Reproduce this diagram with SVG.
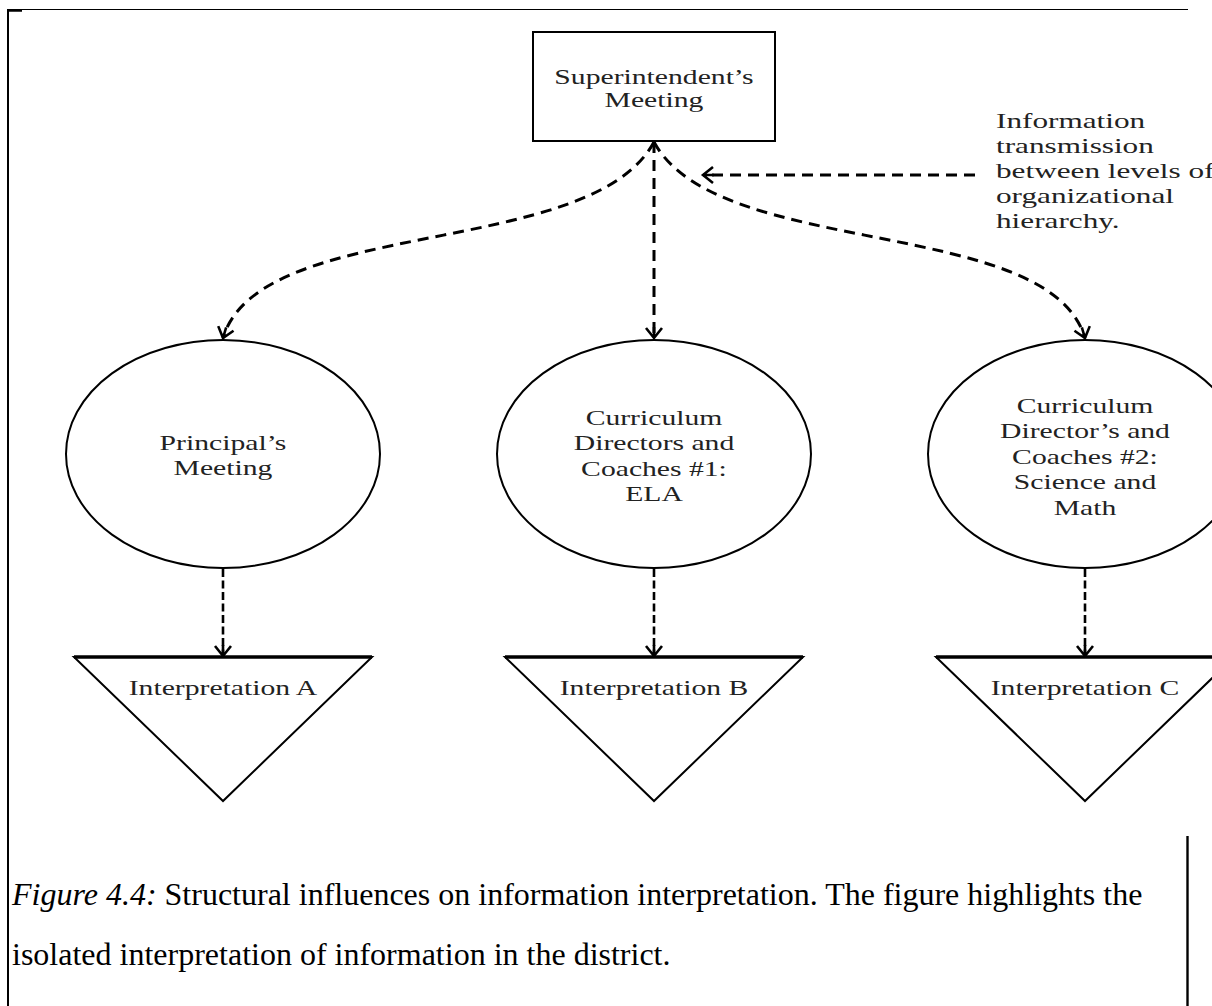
<svg xmlns="http://www.w3.org/2000/svg" width="1212" height="1006" viewBox="0 0 1212 1006">
<defs>
<style>
.shape{fill:#fff;stroke:#000;stroke-width:2;}
.t{font-family:"Liberation Serif","Times New Roman",serif;font-size:21.5px;fill:#222;text-anchor:middle;}
.lbl{font-family:"Liberation Serif","Times New Roman",serif;font-size:22px;fill:#222;}
.cap{font-family:"Liberation Serif","Times New Roman",serif;font-size:32px;fill:#000;}
.dash{fill:none;stroke:#000;stroke-width:3;stroke-dasharray:11 7;}
.dash2{fill:none;stroke:#000;stroke-width:2.6;stroke-dasharray:8 3.5;}
.frame line{stroke:#000;}
</style>
<marker id="ah" markerUnits="userSpaceOnUse" viewBox="-12 -10 14 20" refX="0" refY="0" markerWidth="14" markerHeight="20" orient="auto" style="overflow:visible">
<path d="M-10,-8 L0,0 L-10,8 M-11,0 L0,0" fill="none" stroke="#000" stroke-width="2.6"/>
</marker>
</defs>
<rect width="1212" height="1006" fill="#fff"/>
<g id="frame" class="frame">
<line x1="8" y1="9.5" x2="1188" y2="9.5" stroke-width="1.2"/>
<line x1="8" y1="9" x2="8" y2="1006" stroke-width="2"/>
<line x1="7" y1="10.5" x2="22" y2="10.5" stroke-width="2.5"/>
<line x1="1187.5" y1="836" x2="1187.5" y2="1006" stroke-width="2.4"/>
</g>
<g id="connectors">
<path class="dash" d="M654,142 C590,260 260,215 223,338" marker-end="url(#ah)"/>
<path class="dash" d="M654,142 L654,338" marker-end="url(#ah)"/>
<path class="dash" d="M654,142 C718,260 1048,215 1085,338" marker-end="url(#ah)"/>
<path class="dash" d="M975,175 L703,175" marker-end="url(#ah)"/>
<path class="dash2" d="M223,569 L223,656" marker-end="url(#ah)"/>
<path class="dash2" d="M654,569 L654,656" marker-end="url(#ah)"/>
<path class="dash2" d="M1085,569 L1085,656" marker-end="url(#ah)"/>
</g>
<g id="node-superintendent">
<rect class="shape" x="533" y="32" width="242" height="109" stroke-width="2.6"/>
<g transform="translate(654 0) scale(1.38 1)">
<text class="t" x="0" y="84">Superintendent’s</text>
<text class="t" x="0" y="107.5">Meeting</text>
</g>
</g>
<g id="label-transmission" transform="translate(996 0) scale(1.42 1)">
<text class="lbl" x="0" y="128">Information</text>
<text class="lbl" x="0" y="153">transmission</text>
<text class="lbl" x="0" y="178">between levels of</text>
<text class="lbl" x="0" y="203">organizational</text>
<text class="lbl" x="0" y="228">hierarchy.</text>
</g>
<g id="node-principal">
<ellipse class="shape" cx="223" cy="454" rx="157" ry="114"/>
<g transform="translate(223 0) scale(1.38 1)">
<text class="t" x="0" y="450">Principal’s</text>
<text class="t" x="0" y="475">Meeting</text>
</g>
</g>
<g id="node-ela">
<ellipse class="shape" cx="654" cy="454" rx="157" ry="114"/>
<g transform="translate(654 0) scale(1.38 1)">
<text class="t" x="0" y="425">Curriculum</text>
<text class="t" x="0" y="450.5">Directors and</text>
<text class="t" x="0" y="476">Coaches #1:</text>
<text class="t" x="0" y="501.5">ELA</text>
</g>
</g>
<g id="node-scimath">
<ellipse class="shape" cx="1085" cy="454" rx="157" ry="114"/>
<g transform="translate(1085 0) scale(1.38 1)">
<text class="t" x="0" y="413">Curriculum</text>
<text class="t" x="0" y="438.5">Director’s and</text>
<text class="t" x="0" y="464">Coaches #2:</text>
<text class="t" x="0" y="489.5">Science and</text>
<text class="t" x="0" y="515">Math</text>
</g>
</g>
<g id="node-interpA">
<polygon class="shape" points="74,657 372,657 223,801"/>
<line x1="74" y1="657" x2="372" y2="657" stroke="#000" stroke-width="3.4"/>
<g transform="translate(223 0) scale(1.38 1)"><text class="t" x="0" y="695">Interpretation A</text></g>
</g>
<g id="node-interpB">
<polygon class="shape" points="505,657 803,657 654,801"/>
<line x1="505" y1="657" x2="803" y2="657" stroke="#000" stroke-width="3.4"/>
<g transform="translate(654 0) scale(1.38 1)"><text class="t" x="0" y="695">Interpretation B</text></g>
</g>
<g id="node-interpC">
<polygon class="shape" points="936,657 1234,657 1085,801"/>
<line x1="936" y1="657" x2="1234" y2="657" stroke="#000" stroke-width="3.4"/>
<g transform="translate(1085 0) scale(1.38 1)"><text class="t" x="0" y="695">Interpretation C</text></g>
</g>
<g id="caption">
<text class="cap" x="12" y="905"><tspan font-style="italic">Figure 4.4:</tspan> Structural influences on information interpretation. The figure highlights the</text>
<text class="cap" x="12" y="965">isolated interpretation of information in the district.</text>
</g>
</svg>
